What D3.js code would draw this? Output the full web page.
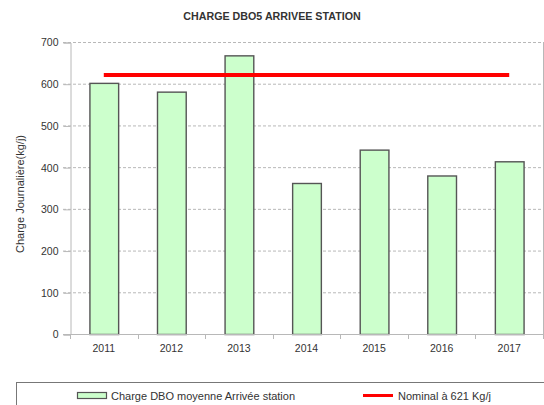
<!DOCTYPE html>
<html>
<head>
<meta charset="utf-8">
<script src="https://cdn.jsdelivr.net/npm/d3@7/dist/d3.min.js"></script>
<style>
  html, body { margin: 0; padding: 0; background: #fff; }
  svg { display: block; font-family: "Liberation Sans", Arial, sans-serif; }
</style>
</head>
<body>
<svg id="chart" width="544" height="405"></svg>
<script>
// Daily DBO5 load arriving at the station, per year
const years = ["2011", "2012", "2013", "2014", "2015", "2016", "2017"];
const chargeDBO = [602, 581, 668, 362, 442, 380, 414];
const nominal = [621, 621, 621, 621, 621, 621, 621];
const yTicks = [0, 100, 200, 300, 400, 500, 600, 700];

const svg = d3.select("#chart");
const plot = { left: 70, right: 543, top: 42, bottom: 334 };

const x = d3.scaleBand().domain(years).range([plot.left, plot.right]).paddingInner(0.575).paddingOuter(0.2875);
const xBand = d3.scaleBand().domain(years).range([plot.left, plot.right]);
const y = d3.scaleLinear().domain([0, 700]).range([plot.bottom, plot.top]);

// Title
svg.append("text")
  .attr("x", 272).attr("y", 20)
  .attr("text-anchor", "middle")
  .attr("font-size", 10.7).attr("font-weight", "bold").attr("fill", "#333")
  .text("CHARGE DBO5 ARRIVEE STATION");

// Horizontal dashed grid
svg.append("g").selectAll("line").data(yTicks.filter(d => d > 0)).join("line")
  .attr("x1", plot.left - 7).attr("x2", plot.right)
  .attr("y1", d => y(d) + 0.5).attr("y2", d => y(d) + 0.5)
  .attr("stroke", "#b8b8b8").attr("stroke-dasharray", "3,2");

// Right frame edge
svg.append("line")
  .attr("x1", plot.right + 0.5).attr("x2", plot.right + 0.5)
  .attr("y1", plot.top).attr("y2", plot.bottom)
  .attr("stroke", "#b8b8b8");

// Y axis
const yAxis = svg.append("g")
  .attr("transform", `translate(${plot.left + 0.5},0.5)`)
  .call(d3.axisLeft(y).tickValues(yTicks).tickSize(7).tickPadding(5));
yAxis.select(".domain").attr("stroke", "#b8b8b8");
yAxis.selectAll(".tick line").attr("stroke", "#b8b8b8");
yAxis.selectAll("text").attr("font-size", 10.5).attr("fill", "#333").attr("font-family", null);

// Y axis title
svg.append("text")
  .attr("transform", "translate(24,194) rotate(-90)")
  .attr("text-anchor", "middle")
  .attr("font-size", 11).attr("fill", "#333")
  .text("Charge Journalière(kg/j)");

// Bars
svg.append("g").selectAll("rect").data(years).join("rect")
  .attr("x", d => x(d) + 0.5)
  .attr("y", (d, i) => y(chargeDBO[i]) + 0.5)
  .attr("width", x.bandwidth())
  .attr("height", (d, i) => y(0) - y(chargeDBO[i]))
  .attr("fill", "#ccffcc").attr("stroke", "#555").attr("stroke-width", 1.4);

// X axis
const xAxis = svg.append("g")
  .attr("transform", `translate(0,${plot.bottom + 0.5})`)
  .call(d3.axisBottom(xBand).tickSize(0).tickPadding(10));
xAxis.select(".domain").attr("d", `M${plot.left - 7},0H${plot.right}`).attr("stroke", "#b8b8b8");
xAxis.selectAll("text").attr("font-size", 10.5).attr("fill", "#333").attr("font-family", null);
// Category separators
svg.append("g").selectAll("line").data(years.concat(["end"])).join("line")
  .attr("x1", (d, i) => Math.round(plot.left + i * xBand.step()) + 0.5)
  .attr("x2", (d, i) => Math.round(plot.left + i * xBand.step()) + 0.5)
  .attr("y1", plot.bottom).attr("y2", plot.bottom + 5)
  .attr("stroke", "#b8b8b8");

// Nominal line
const line = d3.line()
  .x((d, i) => xBand(years[i]) + xBand.bandwidth() / 2)
  .y(d => y(d));
svg.append("path").datum(nominal)
  .attr("d", line)
  .attr("fill", "none").attr("stroke", "#ff0000").attr("stroke-width", 4);

// Legend
svg.append("rect")
  .attr("x", 16.5).attr("y", 382.5).attr("width", 540).attr("height", 40)
  .attr("fill", "none").attr("stroke", "#777");
svg.append("rect")
  .attr("x", 77.5).attr("y", 392.5).attr("width", 29).attr("height", 6)
  .attr("fill", "#ccffcc").attr("stroke", "#555").attr("stroke-width", 1.2);
svg.append("text")
  .attr("x", 111).attr("y", 399.5)
  .attr("font-size", 11).attr("fill", "#333")
  .text("Charge DBO moyenne Arrivée station");
svg.append("line")
  .attr("x1", 363).attr("x2", 393).attr("y1", 395.5).attr("y2", 395.5)
  .attr("stroke", "#ff0000").attr("stroke-width", 3);
svg.append("text")
  .attr("x", 398).attr("y", 399.5)
  .attr("font-size", 11).attr("fill", "#333")
  .text("Nominal à 621 Kg/j");
</script>
</body>
</html>
